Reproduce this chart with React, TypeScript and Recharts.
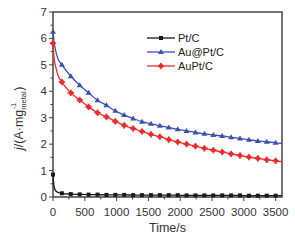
import React from 'react';
import { LineChart, Line, XAxis, YAxis, ReferenceArea, Label } from 'recharts';

// time axis (s); markers are drawn every 140 s
const times = [0, 15, 40, 80, 140, 280, 420, 560, 700, 840, 980, 1120, 1260, 1400, 1540, 1680, 1820, 1960, 2100, 2240, 2380, 2520, 2660, 2800, 2940, 3080, 3220, 3360, 3500, 3600];

const ptC = [0.85, 0.42, 0.24, 0.17, 0.14, 0.11, 0.1, 0.09, 0.09, 0.08, 0.08, 0.08, 0.07, 0.07, 0.07, 0.07, 0.07, 0.07, 0.06, 0.06, 0.06, 0.06, 0.06, 0.06, 0.06, 0.05, 0.05, 0.05, 0.05, 0.05];
const auAtPtC = [6.25, 5.9, 5.55, 5.22, 5.0, 4.57, 4.23, 3.94, 3.66, 3.47, 3.26, 3.1, 2.97, 2.85, 2.77, 2.7, 2.63, 2.56, 2.5, 2.44, 2.39, 2.35, 2.31, 2.26, 2.21, 2.17, 2.12, 2.09, 2.05, 2.03];
const auPtC = [5.82, 5.3, 4.95, 4.6, 4.35, 3.94, 3.67, 3.41, 3.19, 3.03, 2.86, 2.71, 2.59, 2.48, 2.37, 2.28, 2.17, 2.08, 2.0, 1.92, 1.84, 1.77, 1.7, 1.63, 1.57, 1.51, 1.46, 1.41, 1.37, 1.34];

const xTicks = [0, 250, 500, 750, 1000, 1250, 1500, 1750, 2000, 2250, 2500, 2750, 3000, 3250, 3500];
const yTicks = [0, 0.5, 1, 1.5, 2, 2.5, 3, 3.5, 4, 4.5, 5, 5.5, 6, 6.5, 7];

const data = times.map((t, i) => ({
  t,
  pt: ptC[i],
  core: auAtPtC[i],
  alloy: auPtC[i],
  mark: t % 140 === 0 && t <= 3500,
}));

const FONT = 'Liberation Sans, Arial, sans-serif';
const AXIS = '#444';

const series = [
  { key: 'pt', name: 'Pt/C', color: '#1a1a1a', shape: 'square' },
  { key: 'core', name: 'Au@Pt/C', color: '#3b4fb0', shape: 'triangle' },
  { key: 'alloy', name: 'AuPt/C', color: '#ee2a2a', shape: 'star' },
];

const Marker = ({ x, y, shape, color }: any) => {
  if (shape === 'square') return <rect x={x - 2} y={y - 2} width={4} height={4} fill={color} />;
  if (shape === 'triangle')
    return <polygon points={`${x},${y - 3} ${x + 3},${y + 2} ${x - 3},${y + 2}`} fill={color} />;
  return (
    <g>
      <circle cx={x} cy={y} r={2.3} fill={color} />
      <rect x={x - 3.2} y={y - 0.8} width={6.4} height={1.6} fill={color} />
      <rect x={x - 0.8} y={y - 3.2} width={1.6} height={6.4} fill={color} />
    </g>
  );
};

const makeDot = (shape: string, color: string) => (props: any) => {
  const { cx, cy, payload, index } = props;
  if (!payload.mark || cx == null) return <g key={index} />;
  return (
    <g key={index}>
      <Marker x={cx} y={cy} shape={shape} color={color} />
    </g>
  );
};

const XTick = ({ x, y, payload }: any) => {
  const major = payload.value % 500 === 0;
  return (
    <g>
      <line x1={x} x2={x} y1={y} y2={y + (major ? 4 : 2.5)} stroke={AXIS} strokeWidth={1} />
      {major && (
        <text x={x} y={y + 19} textAnchor="middle" fontSize={11.5} fill="#333" fontFamily={FONT}>
          {payload.value}
        </text>
      )}
    </g>
  );
};

const YTick = ({ x, y, payload }: any) => {
  const major = Number.isInteger(payload.value);
  return (
    <g>
      <line x1={x} x2={x - (major ? 4 : 2.5)} y1={y} y2={y} stroke={AXIS} strokeWidth={1} />
      {major && (
        <text x={x - 6} y={y + 4} textAnchor="end" fontSize={11.5} fill="#333" fontFamily={FONT}>
          {payload.value}
        </text>
      )}
    </g>
  );
};

const YLabel = () => (
  <g transform="translate(23,150) rotate(-90)">
    <text x={0} y={0} fontSize={12.5} fill="#333" fontFamily={FONT}>
      <tspan fontStyle="italic">j</tspan>
      <tspan>/(A·mg</tspan>
      <tspan fontSize={7.5} dy={3}>metal</tspan>
      <tspan fontSize={7.5} dx={-18} dy={-10}>-1</tspan>
      <tspan fontSize={12.5} dx={12} dy={7}>)</tspan>
    </text>
  </g>
);

const LegendBox = () => (
  <div style={{ position: 'absolute', left: 147, top: 31, fontFamily: FONT, fontSize: 11, color: '#222', lineHeight: '14px' }}>
    {series.map((s) => (
      <div key={s.key} style={{ display: 'flex', alignItems: 'center', height: 14 }}>
        <svg width={31} height={14}>
          <line x1={0} x2={28} y1={7} y2={7} stroke={s.color} strokeWidth={1.3} />
          <Marker x={14} y={7} shape={s.shape} color={s.color} />
        </svg>
        <span>{s.name}</span>
      </div>
    ))}
  </div>
);

export default function App() {
  return (
    <div style={{ position: 'absolute', left: 0, top: 0, width: 295, height: 240, background: '#fff' }}>
      <LineChart width={295} height={240} data={data} margin={{ top: 12, right: 13, left: 13, bottom: 13 }} style={{ fontFamily: FONT }}>
        <XAxis
          dataKey="t"
          type="number"
          domain={[0, 3600]}
          ticks={xTicks}
          interval={0}
          height={30}
          axisLine={false}
          tickLine={false}
          tickSize={0}
          tickMargin={0}
          tick={<XTick />}
        >
          <Label value="Time/s" position="insideBottom" offset={-5} fontSize={12.5} fill="#333" fontFamily={FONT} />
        </XAxis>
        <YAxis
          type="number"
          domain={[0, 7]}
          ticks={yTicks}
          interval={0}
          width={40}
          axisLine={false}
          tickLine={false}
          tickSize={0}
          tickMargin={0}
          tick={<YTick />}
        >
          <Label content={<YLabel />} />
        </YAxis>
        {series.map((s) => (
          <Line
            key={s.key}
            dataKey={s.key}
            name={s.name}
            type="monotone"
            stroke={s.color}
            strokeWidth={1.3}
            dot={makeDot(s.shape, s.color)}
            activeDot={false}
            isAnimationActive={false}
          />
        ))}
        <ReferenceArea x1={0} x2={3600} y1={0} y2={7} fill="none" stroke={AXIS} strokeWidth={1.5} ifOverflow="visible" />
      </LineChart>
      <LegendBox />
    </div>
  );
}
